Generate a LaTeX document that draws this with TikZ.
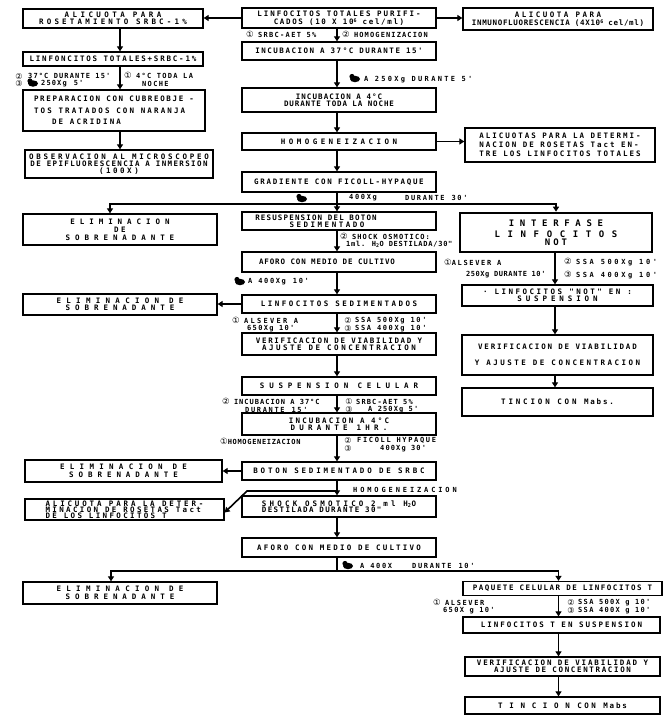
\documentclass[tikz,border=0pt]{standalone}
\usepackage{fontspec}
\usetikzlibrary{arrows.meta}
\newfontfamily\tw{DejaVu Sans Mono}
\newfontfamily\dvs{DejaVu Sans}
\def\lsA{1}\def\lsB{0}
\newcommand\myls[2]{{\edef\lstmp{\noexpand\addfontfeatures{LetterSpace=\fpeval{round(#1*\lsA+\lsB,2)}}}\lstmp#2}}
\newcommand\ci[1]{{\dvs\mdseries\fontsize{8.5}{8}\selectfont #1}}
\newcommand\supsix{\raisebox{2.2pt}{\fontsize{5}{5}\selectfont 6}}
\tikzset{
 box/.style={draw, line width=1.3pt, align=center, inner sep=1pt,
   font=\def\lsA{0.933}\def\lsB{-4.07}\tw\bfseries\fontsize{7.5}{8}\selectfont},
 wh/.style 2 args={minimum width=#1pt, minimum height=#2pt},
 lbl/.style={anchor=west, inner sep=0pt, align=left,
   font=\def\lsA{0.929}\def\lsB{-4.29}\tw\bfseries\fontsize{7}{7.5}\selectfont},
 stk/.style={inner sep=0pt, align=center,
   font=\dvs\fontsize{8}{7.5}\selectfont},
 arr/.style={line width=1.6pt, -{Triangle[length=5pt,width=6pt]}},
 ln/.style={line width=1.6pt},
 centrif/.pic={\fill (0,0) ellipse (5pt and 3.2pt); \fill (-3pt,2.5pt) circle (2.6pt);}
}
\begin{document}
\begin{tikzpicture}[x=1pt,y=-1pt]
\path[fill=white,use as bounding box] (0,0) rectangle (666,723);

% ---------- left column
\node[box,wh={180}{19}] (L1) at (113,18.5) {\myls{54}{ALICUOTA PARA}\\[-1pt]\myls{50}{ROSETAMIENTO SRBC-1\%}};
\node[box,wh={180}{14}] (L2) at (113,59) {\myls{30}{LINFONCITOS TOTALES+SRBC-1\%}};
\node[box,wh={182}{41},align=left] (L3) at (114,110.5) {\myls{28}{PREPARACION CON CUBREOBJE -}\\[4pt]\myls{35}{TOS TRATADOS CON NARANJA}\\[3pt]\hspace*{18pt}\myls{35}{DE ACRIDINA}};
\node[box,wh={188}{28}] (L4) at (119,164) {\myls{43}{OBSERVACION AL MICROSCOPEO}\\[-1pt]\myls{24}{DE  EPIFLUORESCENCIA A INMERSION}\\[-1pt]\myls{40}{(100X)}};
\node[box,wh={194}{31}] (L5) at (120,229.5) {\myls{75}{ELIMINACION}\\[0pt]\myls{40}{DE}\\[0pt]\myls{75}{SOBRENADANTE}};
\node[box,wh={194}{21}] (L6) at (120,304.5) {\myls{80}{ELIMINACION DE}\\[-1pt]\myls{75}{SOBRENADANTE}};
\node[box,wh={197}{22}] (L7) at (123.5,471) {\myls{80}{ELIMINACION DE}\\[0pt]\myls{75}{SOBRENADANTE}};
\node[box,wh={199}{21},align=left] (L8) at (124.5,509.5) {\myls{45}{ALICUOTA PARA LA DETER-}\\[-2pt]\myls{38}{MINACION DE ROSETAS Tact}\\[-2pt]\myls{38}{DE LOS LINFOCITOS T}};
\node[box,wh={194}{22}] (L9) at (120,593) {\myls{80}{ELIMINACION DE}\\[0pt]\myls{75}{SOBRENADANTE}};

% ---------- centre column
\node[box,wh={194}{20}] (C1) at (339,18) {\myls{33}{LINFOCITOS TOTALES PURIFI-}\\[0pt]\myls{28}{CADOS (10 X 10\supsix\ cel/ml)}};
\node[box,wh={194}{18}] (C2) at (339,51) {\myls{26}{INCUBACION A 37°C DURANTE 15'}};
\node[box,wh={194}{24}] (C3) at (339,100) {\myls{20}{INCUBACION A 4°C}\\[-1pt]\myls{17}{DURANTE TODA LA NOCHE}};
\node[box,wh={194}{17}] (C4) at (339,141.5) {\myls{54}{HOMOGENEIZACION}};
\node[box,wh={194}{20}] (C5) at (339,182) {\myls{29}{GRADIENTE CON FICOLL-HYPAQUE}};
\node[box,wh={194}{18}] (C6) at (339,221) {\myls{21}{RESUSPENSION DEL BOTON}\hspace*{46pt}\\[-1pt]\myls{40}{SEDIMENTADO}\hspace*{24pt}};
\node[box,wh={194}{20}] (C7) at (339,262) {\myls{17}{AFORO CON MEDIO DE CULTIVO}\hspace*{24pt}};
\node[box,wh={194}{18}] (C8) at (339,304) {\myls{40}{LINFOCITOS SEDIMENTADOS}};
\node[box,wh={194}{22}] (C9) at (339,344) {\myls{28}{VERIFICACION DE VIABILIDAD Y}\\[-1pt]\myls{40}{AJUSTE DE CONCENTRACION}};
\node[box,wh={194}{18}] (C10) at (339,386) {\myls{73}{SUSPENSION CELULAR}};
\node[box,wh={194}{22}] (C11) at (339,424) {\myls{35}{INCUBACION A 4°C}\\[-1pt]\myls{65}{DURANTE 1HR.}};
\node[box,wh={194}{18}] (C12) at (339,471) {\myls{44}{BOTON SEDIMENTADO DE SRBC}};
\node[box,wh={194}{21},align=left] (C13) at (339,506.5) {\myls{50}{SHOCK OSMOTICO 2 ml H\textsubscript{2}O}\\[-2pt]\myls{24}{DESTILADA DURANTE 30"}};
\node[box,wh={194}{19}] (C14) at (339,547.5) {\myls{36}{AFORO CON MEDIO DE CULTIVO}};

% ---------- right column
\node[box,wh={190}{22}] (R1) at (558,19) {\myls{40}{ALICUOTA PARA}\\[0.5pt]\myls{14}{INMUNOFLUORESCENCIA (4X10\supsix\ cel/ml)}};
\node[box,wh={190}{34},align=left] (R2) at (560,145) {\myls{33}{ALICUOTAS PARA LA DETERMI-}\\[1pt]\myls{33}{NACION DE ROSETAS Tact EN-}\\[1pt]\myls{33}{TRE LOS LINFOCITOS TOTALES}};
\node[box,wh={192}{39},line width=2.6pt,font=\def\lsA{0.933}\def\lsB{-4.07}\tw\bfseries\fontsize{9}{10}\selectfont] (R3) at (556,232.5) {\myls{72}{INTERFASE}\\[1pt]\myls{95}{LINFOCITOS}\\[-2pt]\myls{40}{NOT}};
\node[box,wh={191}{21}] (R4) at (557.5,295.5) {\myls{40}{· LINFOCITOS "NOT" EN  :}\\[-1pt]\myls{60}{SUSPENSION}};
\node[box,wh={191}{40}] (R5) at (557.5,355) {\myls{30}{VERIFICACION DE VIABILIDAD}\\[8pt]\myls{40}{Y AJUSTE DE CONCENTRACION}};
\node[box,wh={191}{28}] (R6) at (557.5,402) {\myls{45}{TINCION}\quad\myls{45}{CON}\quad\myls{30}{Mabs.}};
\node[box,wh={199}{14}] (R7) at (562.5,588.5) {\myls{26}{PAQUETE CELULAR DE LINFOCITOS T}};
\node[box,wh={197}{16}] (R8) at (561.5,625) {\myls{33}{LINFOCITOS T EN SUSPENSION}};
\node[box,wh={195}{19}] (R9) at (562.5,666.5) {\myls{31}{VERIFICACION DE VIABILIDAD Y}\\[-1pt]\myls{28}{AJUSTE DE CONCENTRACION}};
\node[box,wh={195}{17}] (R10) at (562.5,705.5) {\myls{100}{TINCION}\quad\myls{40}{CON}\quad\myls{30}{Mabs}};

% ---------- connectors
\draw[arr] (C1.west) -- (C1.west -| L1.east);
\draw[arr] (C1.east) -- (C1.east -| R1.west);
\draw[arr] ([xshift=7pt]L1.south) -- ([xshift=7pt]L2.north);
\draw[arr] ([xshift=7pt]L2.south) -- ([xshift=6pt]L3.north);
\draw[arr] ([xshift=6pt]L3.south) -- ([xshift=1pt]L4.north);
\foreach \a/\b in {C1/C2,C2/C3,C3/C4,C4/C5,C5/C6,C6/C7,C7/C8,C8/C9,C9/C10,C10/C11,C11/C12,C12/C13,C13/C14}
  \draw[arr] ([xshift=-2pt]\a.south) -- ([xshift=-2pt]\b.north);
\draw[arr] (C4.east) -- (C4.east -| R2.west);
\draw[arr] (C8.west) -- (C8.west -| L6.east);
\draw[arr] (C12.west) -- (C12.west -| L7.east);
\coordinate (d1) at (337,491);
\draw[arr] (d1) -- ++(-90,0) -- ([yshift=-3pt]L8.east);
\coordinate (s1) at (337,204);
\draw[arr] (s1) -| ([xshift=-10pt]L5.north);
\draw[arr] (s1) -| (R3.north);
\coordinate (s2) at (337,571);
\draw[ln] ([xshift=-2pt]C14.south) -- (s2);
\draw[arr] (s2) -| ([xshift=-9pt]L9.north);
\draw[arr] (s2) -| ([xshift=-4pt]R7.north);
\draw[arr] ([xshift=-1pt]R3.south) -- ([xshift=-2.5pt]R4.north);
\draw[arr] ([xshift=-2.5pt]R4.south) -- ([xshift=-2.5pt]R5.north);
\draw[arr] ([xshift=-2.5pt]R5.south) -- ([xshift=-2.5pt]R6.north);
\draw[arr] ([xshift=-4pt]R7.south) -- ([xshift=-3pt]R8.north);
\draw[arr] ([xshift=-3pt]R8.south) -- ([xshift=-4pt]R9.north);
\draw[arr] ([xshift=-4pt]R9.south) -- ([xshift=-4pt]R10.north);

% ---------- labels
\node[stk] (k1) at (19,80) {②\\③};
\node[lbl] (t1) at (28,75.5) {\myls{22}{37°C DURANTE 15'}};
\pic at (33,83.5) {centrif};
\node[lbl] (t2) at (41,83.5) {\myls{22}{250Xg}\quad\myls{22}{5'}};
\node[lbl] (t3) at (124,75.5) {\ci{①} \myls{25}{4°C TODA LA}};
\node[lbl] (t4) at (142,83.5) {\myls{25}{NOCHE}};

\node[lbl] (t5) at (246,34) {\ci{①} \myls{25}{SRBC-AET 5\%}};
\node[lbl] (t6) at (342,34) {\ci{②} \myls{22}{HOMOGENIZACION}};
\pic at (355,79) {centrif};
\node[lbl] (t7) at (364,80) {\myls{40}{A 250Xg  DURANTE   5'}};

\pic at (302,199) {centrif};
\node[lbl] (t8) at (349,198) {\myls{30}{400Xg}};
\node[lbl] (t9) at (405,198) {\myls{30}{DURANTE}\quad\myls{30}{30'}};

\node[lbl] (t10) at (340,236.5) {\ci{②} \myls{22}{SHOCK OSMOTICO:}};
\node[lbl] (t11) at (346,244.5) {\myls{16}{1ml. H\textsubscript{2}O DESTILADA/30"}};
\pic at (240,282) {centrif};
\node[lbl] (t12) at (248,282) {\myls{30}{A 400Xg}\quad\myls{30}{10'}};

\node[lbl] (t13) at (232,320.5) {\ci{①} \myls{40}{ALSEVER  A}};
\node[lbl] (t14) at (247,328.5) {\myls{25}{650Xg 10'}};
\node[stk] (k2) at (348,324.5) {②\\③};
\node[lbl] (t15) at (355,320.5) {\myls{30}{SSA  500Xg  10'}};
\node[lbl] (t16) at (355,328.5) {\myls{30}{SSA  400Xg  10'}};

\node[lbl] (t17) at (222,401.5) {\ci{②} \myls{20}{INCUBACION A 37°C}};
\node[lbl] (t18) at (245,409.5) {\myls{30}{DURANTE}\quad\myls{30}{15'}};
\node[stk] (k3) at (349,405.5) {①\\③};
\node[lbl] (t19) at (356,401.5) {\myls{22}{SRBC-AET 5\%}};
\node[lbl] (t20) at (368,409.5) {\myls{22}{A 250Xg 5'}};

\node[lbl] (t21) at (220,441) {\ci{①}\myls{15}{HOMOGENEIZACION}};
\node[stk] (k4) at (348,444.5) {②\\③};
\node[lbl] (t22) at (357,440.5) {\myls{30}{FICOLL  HYPAQUE}};
\node[lbl] (t23) at (380,448.5) {\myls{22}{400Xg 30'}};

\node[lbl] (t24) at (353,490) {\myls{49}{HOMOGENEIZACION}};
\pic at (348,566) {centrif};
\node[lbl] (t25) at (360,566) {\myls{30}{A 400X}};
\node[lbl] (t26) at (412,566) {\myls{30}{DURANTE}\quad\myls{30}{10'}};

\node[lbl] (t27) at (444,262) {\ci{①}\myls{30}{ALSEVER A}};
\node[lbl] (t28) at (466,275) {\myls{13}{250Xg DURANTE 10'}};
\node[lbl] (t29) at (564,262) {\ci{②} \myls{45}{SSA 500Xg 10'}};
\node[lbl] (t30) at (564,275) {\ci{③} \myls{45}{SSA 400Xg 10'}};

\node[lbl] (t31) at (433,602.5) {\ci{①} \myls{30}{ALSEVER}};
\node[lbl] (t32) at (443,610.5) {\myls{25}{650X g 10'}};
\node[stk] (k5) at (571,606.5) {②\\③};
\node[lbl] (t33) at (578,602.5) {\myls{25}{SSA 500X g 10'}};
\node[lbl] (t34) at (578,610.5) {\myls{25}{SSA 400X g 10'}};
\end{tikzpicture}
\end{document}
